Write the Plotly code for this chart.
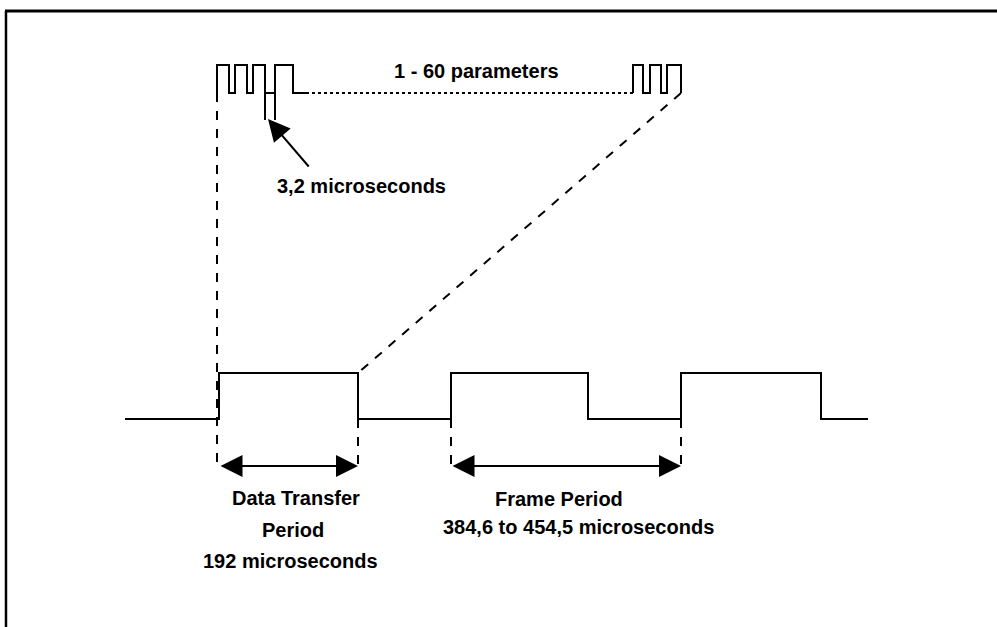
import plotly.graph_objects as go

# main signal: frame edges (alternating rise / fall) on a time-like x scale
sig_start = 125
sig_end = 868
frame_edges = [219, 358, 451, 588, 681, 821]
level_low = 419
level_high = 373

# expanded parameter burst (top)
burst_left_rises = [217, 235, 253, 275]
burst_left_falls = [229, 247, 265, 293]
burst_right_rises = [633, 650, 667]
burst_right_falls = [643, 661, 681]
burst_low = 93
burst_high = 65
burst_gap = [306, 633]

# 3,2 microseconds bit markers
bit_marks = [265, 275]
bit_mark_bottom = 120

# period arrows
arrow_y = 466
transfer_span = [219, 358]
frame_span = [451, 681]

labels = [
    ("1 - 60 parameters", 476, 71),
    ("3,2 microseconds", 361, 186),
    ("Data Transfer", 296, 498),
    ("Period", 293, 530),
    ("192 microseconds", 290, 561),
    ("Frame Period", 559, 499),
    ("384,6 to 454,5 microseconds", 578, 527),
]


def step_path(start, rises, falls, low, high):
    xs, ys = [start], [low]
    for r, f in zip(rises, falls):
        xs += [r, r, f, f]
        ys += [low, high, high, low]
    return xs, ys


# main waveform
sx, sy = [sig_start], [level_low]
for i, e in enumerate(frame_edges):
    a, b = (level_low, level_high) if i % 2 == 0 else (level_high, level_low)
    sx += [e, e]
    sy += [a, b]
sx.append(sig_end)
sy.append(level_low)

lx, ly = step_path(burst_left_rises[0], burst_left_rises, burst_left_falls, burst_low, burst_high)
lx.append(burst_gap[0])
ly.append(burst_low)
rx, ry = step_path(burst_gap[1], burst_right_rises, burst_right_falls, burst_low, burst_high)

line = dict(color="black", width=2)
fig = go.Figure()
fig.add_trace(go.Scatter(x=sx, y=sy, mode="lines", line=line))
fig.add_trace(go.Scatter(x=lx, y=ly, mode="lines", line=line))
fig.add_trace(go.Scatter(x=rx, y=ry, mode="lines", line=line))
fig.add_trace(go.Scatter(x=burst_gap, y=[burst_low] * 2, mode="lines",
                         line=dict(color="black", width=2, dash="dot")))
# zoom lines from the transfer pulse up to the burst
fig.add_trace(go.Scatter(x=[burst_right_falls[-1], transfer_span[1]], y=[burst_low, level_high],
                         mode="lines", line=dict(color="black", width=2, dash="dash")))
fig.add_trace(go.Scatter(x=[burst_left_rises[0], burst_left_rises[0]], y=[burst_low, arrow_y],
                         mode="lines", line=dict(color="black", width=2, dash="dash")))
# drop lines to the period arrows
dx, dy = [], []
for e in [transfer_span[1], frame_span[0], frame_span[1]]:
    dx += [e, e, None]
    dy += [level_low, arrow_y, None]
fig.add_trace(go.Scatter(x=dx, y=dy, mode="lines", line=dict(color="black", width=2, dash="dash")))
# bit markers
mx, my = [], []
for m in bit_marks:
    mx += [m, m, None]
    my += [burst_low, bit_mark_bottom, None]
fig.add_trace(go.Scatter(x=mx, y=my, mode="lines", line=dict(color="black", width=2)))

fig.update_traces(showlegend=False, hoverinfo="skip")

for a, b in [transfer_span, frame_span]:
    fig.add_annotation(
        x=b, y=arrow_y, ax=a, ay=arrow_y, xref="x", yref="y", axref="x", ayref="y",
        text="", showarrow=True, arrowhead=2, arrowside="end+start",
        arrowsize=2.2, arrowwidth=2, arrowcolor="black", standoff=0, startstandoff=0,
    )
fig.add_annotation(
    x=268, y=119, ax=310, ay=168, xref="x", yref="y", axref="x", ayref="y",
    text="", showarrow=True, arrowhead=2, arrowsize=2.2, arrowwidth=2, arrowcolor="black",
)

for text, x, y in labels:
    fig.add_annotation(
        x=x, y=y, text=f"<b>{text}</b>", showarrow=False, xanchor="center", yanchor="middle",
        font=dict(family="Liberation Sans, Arial", size=20, color="black"),
    )

# scanned page frame (top and left edge)
fig.add_shape(type="line", xref="paper", yref="paper", x0=0.005, x1=1, y0=1 - 11 / 627, y1=1 - 11 / 627,
              line=dict(color="black", width=3))
fig.add_shape(type="line", xref="paper", yref="paper", x0=0.006, x1=0.006, y0=0, y1=1 - 11 / 627,
              line=dict(color="black", width=2.5))

fig.update_layout(
    width=997,
    height=627,
    margin=dict(l=0, r=0, t=0, b=0),
    paper_bgcolor="white",
    plot_bgcolor="white",
    xaxis=dict(range=[0, 997], visible=False, fixedrange=True),
    yaxis=dict(range=[627, 0], visible=False, fixedrange=True),
)

fig.write_html(
    "out.html",
    config=dict(displayModeBar=False),
    post_script="document.body.style.margin='0';document.body.style.overflow='hidden';",
)
